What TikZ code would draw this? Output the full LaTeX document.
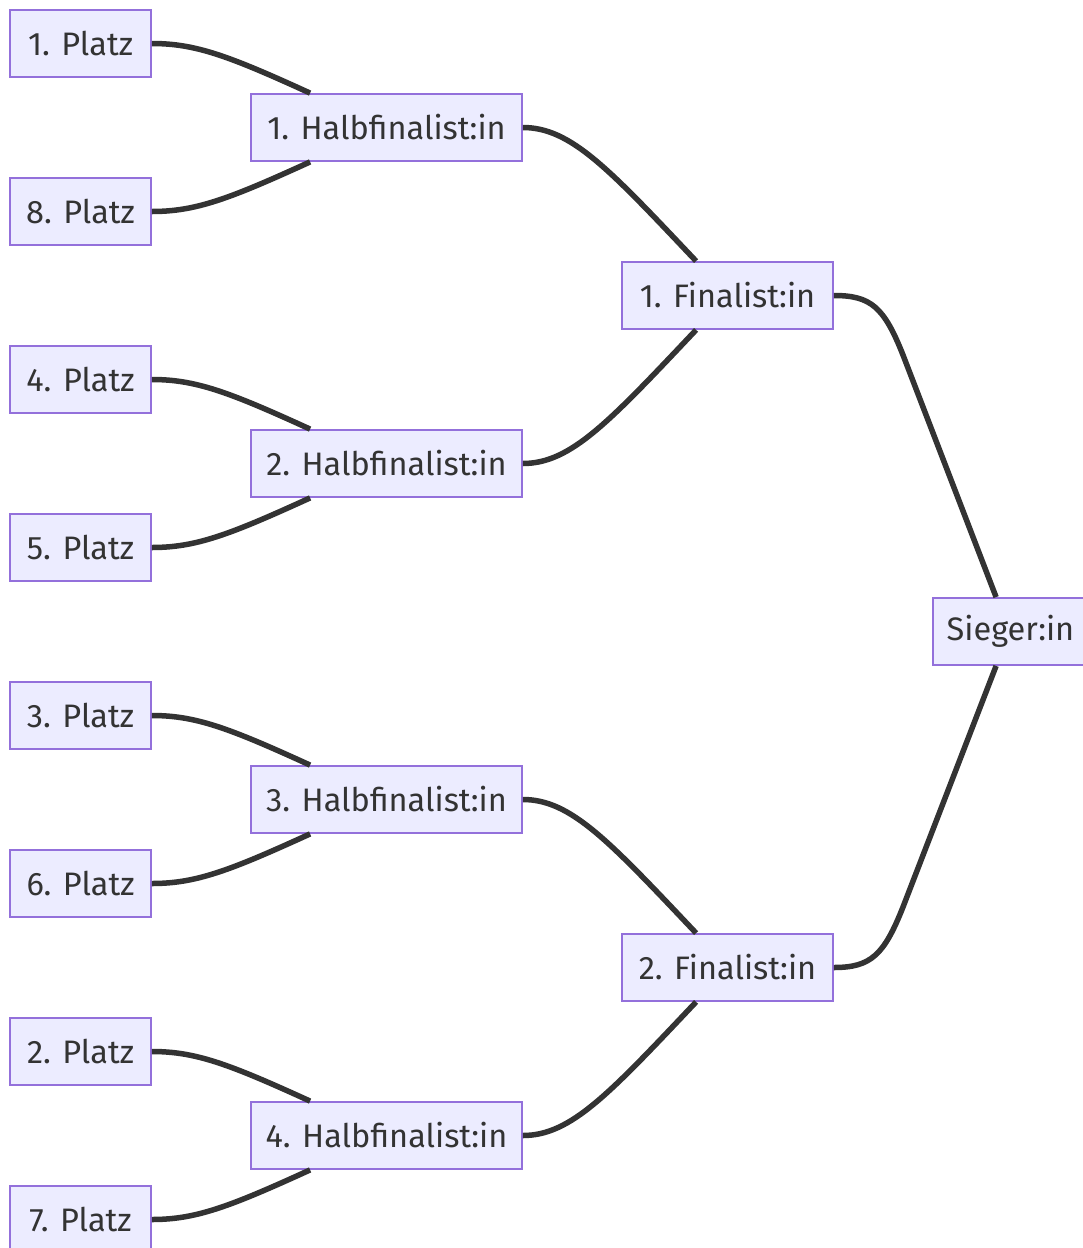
\documentclass[tikz,border=0pt]{standalone}
\usepackage{fontspec}
\setmainfont{Fira Sans}
\definecolor{nodefill}{HTML}{ECECFF}
\definecolor{nodeline}{HTML}{9370DB}
\definecolor{edgecol}{HTML}{333333}
\begin{document}
\begin{tikzpicture}[x=1pt,y=-1pt,
  box/.style={draw=nodeline,fill=nodefill,line width=1.8pt,inner sep=0pt,
    minimum height=67pt,text=edgecol,font=\fontsize{32.5}{38}\selectfont},
  platz/.style={box,minimum width=141pt},
  halb/.style={box,minimum width=271pt},
  fin/.style={box,minimum width=211pt},
  link/.style={draw=edgecol,line width=5.5pt}]
\useasboundingbox (0,0) rectangle (1083,1248);
\clip (0,0) rectangle (1083,1248);
% first round
\node[platz] (p1) at (80.5,43.5) {1. Platz};
\node[platz] (p8) at (80.5,211.5) {8. Platz};
\node[platz] (p4) at (80.5,379.5) {4. Platz};
\node[platz] (p5) at (80.5,547.5) {5. Platz};
\node[platz] (p3) at (80.5,715.5) {3. Platz};
\node[platz] (p6) at (80.5,883.5) {6. Platz};
\node[platz] (p2) at (80.5,1051.5) {2. Platz};
\node[platz] (p7) at (80.5,1219.5) {7. Platz};
% semifinalists
\node[halb] (h1) at (386.5,127.5) {1. Halbfinalist:in};
\node[halb] (h2) at (386.5,463.5) {2. Halbfinalist:in};
\node[halb] (h3) at (386.5,799.5) {3. Halbfinalist:in};
\node[halb] (h4) at (386.5,1135.5) {4. Halbfinalist:in};
% finalists
\node[fin] (f1) at (727.5,295.5) {1. Finalist:in};
\node[fin] (f2) at (727.5,967.5) {2. Finalist:in};
% winner
\node[box,minimum width=155pt] (s) at (1010.5,631.5) {Sieger:in};
% edges
\foreach \a/\b in {p1/h1,p4/h2,p3/h3,p2/h4}{
  \draw[link] (\a.east) .. controls +(44,0) and +(-81,-37) .. ([xshift=60pt]\b.north west);
}
\foreach \a/\b in {p8/h1,p5/h2,p6/h3,p7/h4}{
  \draw[link] (\a.east) .. controls +(44,0) and +(-81,37) .. ([xshift=60pt]\b.south west);
}
\foreach \a/\b in {h1/f1,h3/f2}{
  \draw[link] (\a.east) .. controls +(48,0) and +(-87,-92) .. ([xshift=75pt]\b.north west);
}
\foreach \a/\b in {h2/f1,h4/f2}{
  \draw[link] (\a.east) .. controls +(48,0) and +(-87,92) .. ([xshift=75pt]\b.south west);
}
\coordinate (k1) at (903,355);
\coordinate (k2) at (903,907);
\draw[link] (f1.east) .. controls +(37,0) and +(-19,-48) .. (k1) -- ([xshift=64pt]s.north west);
\draw[link] (f2.east) .. controls +(37,0) and +(-19,48) .. (k2) -- ([xshift=64pt]s.south west);
\end{tikzpicture}
\end{document}
